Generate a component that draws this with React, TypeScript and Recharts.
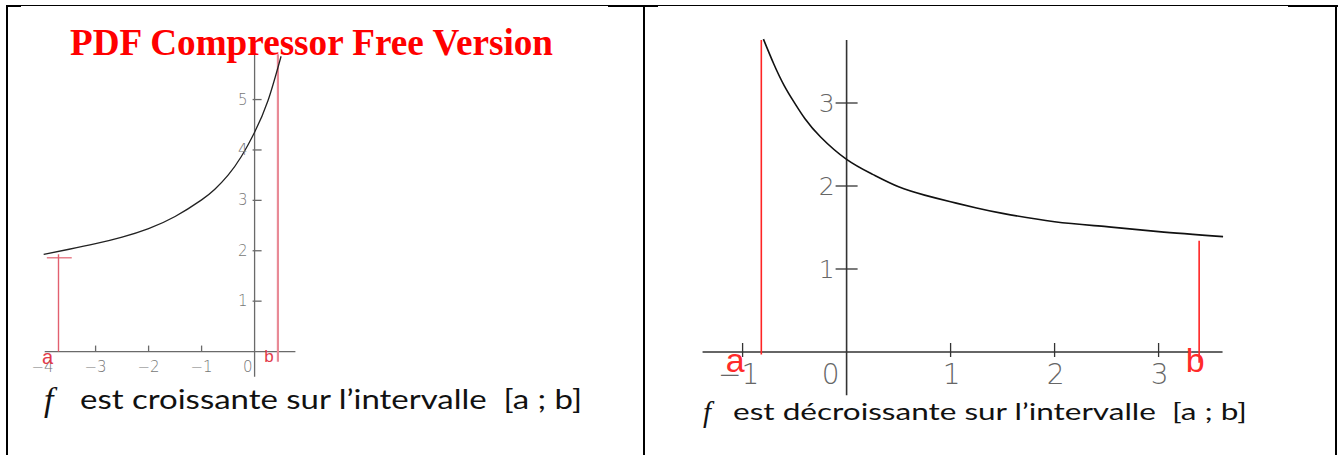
import React from 'react';
import { LineChart, Line, XAxis, YAxis, ReferenceLine, ReferenceDot } from 'recharts';

// ---------- Left panel: f croissante ----------
const leftXs = [-3.98, -3.5, -3, -2.5, -2, -1.5, -1, -0.75, -0.5, -0.25, 0, 0.25, 0.5];
const leftYs = [1.93, 2.03, 2.14, 2.27, 2.44, 2.68, 3.01, 3.22, 3.5, 3.87, 4.35, 4.97, 5.86];
const leftXTicks = [-4, -3, -2, -1, 0];
const leftXTickLabels = ['−4', '−3', '−2', '−1', '0'];
const leftYTicks = [1, 2, 3, 4, 5];
const leftYTickLabels = ['1', '2', '3', '4', '5'];
const leftA = -3.7;
const leftB = 0.44;
const leftAValue = 1.93;
const leftBTop = 5.9;

// ---------- Right panel: f décroissante ----------
const rightXs = [-0.8, -0.7, -0.6, -0.5, -0.4, -0.25, 0, 0.25, 0.5, 0.75, 1, 1.25, 1.5, 2, 2.5, 3, 3.62];
const rightYs = [3.77, 3.47, 3.21, 3.0, 2.81, 2.59, 2.32, 2.14, 1.99, 1.89, 1.81, 1.735, 1.67, 1.57, 1.51, 1.45, 1.39];
const rightXTicks = [-1, 0, 1, 2, 3];
const rightXTickLabels = ['−1', '0', '1', '2', '3'];
const rightYTicks = [1, 2, 3];
const rightYTickLabels = ['1', '2', '3'];
const rightA = -0.82;
const rightB = 3.39;
const rightAValue = 3.76;
const rightBValue = 1.34;

const leftData = leftXs.map((x, i) => ({ x, y: leftYs[i] }));
const rightData = rightXs.map((x, i) => ({ x, y: rightYs[i] }));

type Tk = { cx?: number; cy?: number };

const xTickShape = (label: string, opts: { tick: boolean; up: number; down: number; dx: number; dy: number; anchor: string; size: number; color: string; font: string; weight?: number | string; tickColor: string }) =>
  (p: Tk) => {
    const cx = p.cx ?? 0;
    const cy = p.cy ?? 0;
    return (
      <g>
        {opts.tick && <line x1={cx} x2={cx} y1={cy - opts.up} y2={cy + opts.down} stroke={opts.tickColor} strokeWidth={1.3} />}
        <text x={cx + opts.dx} y={cy + opts.dy} textAnchor={opts.anchor as any} fontSize={opts.size} fill={opts.color} fontFamily={opts.font} fontWeight={opts.weight as any}>{label}</text>
      </g>
    );
  };

const yTickShape = (label: string, opts: { left: number; right: number; dx: number; dy: number; size: number; color: string; font: string; weight?: number | string; tickColor: string }) =>
  (p: Tk) => {
    const cx = p.cx ?? 0;
    const cy = p.cy ?? 0;
    return (
      <g>
        <line x1={cx - opts.left} x2={cx + opts.right} y1={cy} y2={cy} stroke={opts.tickColor} strokeWidth={1.3} />
        <text x={cx + opts.dx} y={cy + opts.dy} textAnchor="end" fontSize={opts.size} fill={opts.color} fontFamily={opts.font} fontWeight={opts.weight as any}>{label}</text>
      </g>
    );
  };

const textShape = (label: string, dx: number, dy: number, size: number, color: string, font: string) =>
  (p: Tk) => (
    <text x={(p.cx ?? 0) + dx} y={(p.cy ?? 0) + dy} textAnchor="middle" fontSize={size} fill={color} fontFamily={font}>{label}</text>
  );

const LEFT_BOX = { left: 32.4, top: 29.44, width: 275.6, height: 352.8 };
const RIGHT_BOX = { left: 701.4, top: 20, width: 551.2, height: 381.8 };

function LeftChart() {
  const axisColor = '#6a6a6a';
  const labelColor = '#777';
  const font = 'DejaVu Sans';
  return (
    <div style={{ position: 'absolute', left: LEFT_BOX.left, top: LEFT_BOX.top }}>
      <LineChart width={LEFT_BOX.width} height={LEFT_BOX.height} data={leftData} margin={{ top: 0, right: 0, bottom: 0, left: 0 }}>
        <XAxis dataKey="x" type="number" domain={[-4.2, 1.0]} hide allowDataOverflow />
        <YAxis type="number" domain={[-0.6, 6.4]} hide allowDataOverflow />
        <ReferenceLine segment={[{ x: -3.96, y: 0 }, { x: 0.77, y: 0 }]} stroke={axisColor} strokeWidth={1.3} />
        <ReferenceLine segment={[{ x: 0, y: -0.5 }, { x: 0, y: 6.1 }]} stroke={axisColor} strokeWidth={1.3} />
        {leftXTicks.map((t, i) => (
          <ReferenceDot key={'lx' + t} x={t} y={0} r={0}
            shape={xTickShape(leftXTickLabels[i], {
              tick: t !== 0 && t !== -4, up: 6, down: 0,
              dx: t === 0 ? -2 : 0, dy: 20, anchor: t === 0 ? 'end' : 'middle',
              size: 15, color: labelColor, font, weight: 300, tickColor: axisColor,
            })} />
        ))}
        {leftYTicks.map((t, i) => (
          <ReferenceDot key={'ly' + t} x={0} y={t} r={0}
            shape={yTickShape(leftYTickLabels[i], { left: 2, right: 7, dx: -7, dy: 5, size: 15, color: labelColor, font, weight: 300, tickColor: axisColor })} />
        ))}
        <ReferenceLine segment={[{ x: leftA, y: 0 }, { x: leftA, y: leftAValue }]} stroke="#e2606f" strokeWidth={1.4} />
        <ReferenceLine segment={[{ x: -3.92, y: 1.86 }, { x: -3.45, y: 1.86 }]} stroke="#e2606f" strokeWidth={1.2} />
        <ReferenceLine segment={[{ x: leftB, y: -0.2 }, { x: leftB, y: leftBTop }]} stroke="#e98a96" strokeWidth={2.2} />
        <Line dataKey="y" type="natural" stroke="#222" strokeWidth={1.3} dot={false} isAnimationActive={false} />
        <ReferenceDot x={leftA} y={0} r={0} shape={textShape('a', -11, 12, 20, '#e23a4a', 'Liberation Sans')} />
        <ReferenceDot x={leftB} y={0} r={0} shape={textShape('b', -9, 10, 17, '#e23a4a', 'Liberation Sans')} />
      </LineChart>
    </div>
  );
}

function RightChart() {
  const axisColor = '#333';
  const labelColor = '#666';
  const font = 'DejaVu Sans';
  return (
    <div style={{ position: 'absolute', left: RIGHT_BOX.left, top: RIGHT_BOX.top }}>
      <LineChart width={RIGHT_BOX.width} height={RIGHT_BOX.height} data={rightData} margin={{ top: 0, right: 0, bottom: 0, left: 0 }}>
        <XAxis dataKey="x" type="number" domain={[-1.4, 3.9]} hide allowDataOverflow />
        <YAxis type="number" domain={[-0.6, 4.0]} hide allowDataOverflow />
        <ReferenceLine segment={[{ x: -1.385, y: 0 }, { x: 3.615, y: 0 }]} stroke={axisColor} strokeWidth={1.6} />
        <ReferenceLine segment={[{ x: 0, y: -0.52 }, { x: 0, y: 3.76 }]} stroke={axisColor} strokeWidth={1.6} />
        {rightXTicks.map((t, i) => (
          <ReferenceDot key={'rx' + t} x={t} y={0} r={0}
            shape={xTickShape(rightXTickLabels[i], {
              tick: t !== 0, up: 9, down: 5,
              dx: t === 0 ? -7 : t < 0 ? -4 : 1, dy: 32, anchor: t === 0 ? 'end' : 'middle',
              size: 28, color: labelColor, font, weight: 300, tickColor: axisColor,
            })} />
        ))}
        {rightYTicks.map((t, i) => (
          <ReferenceDot key={'ry' + t} x={0} y={t} r={0}
            shape={yTickShape(rightYTickLabels[i], { left: 11, right: 11, dx: -12, dy: 9, size: 25, color: labelColor, font, weight: 300, tickColor: axisColor })} />
        ))}
        <ReferenceLine segment={[{ x: rightA, y: -0.03 }, { x: rightA, y: rightAValue }]} stroke="#ff2424" strokeWidth={1.6} />
        <ReferenceLine segment={[{ x: rightB, y: -0.13 }, { x: rightB, y: rightBValue }]} stroke="#ff2424" strokeWidth={1.6} />
        <Line dataKey="y" type="natural" stroke="#111" strokeWidth={1.6} dot={false} isAnimationActive={false} />
        <ReferenceDot x={rightA} y={0} r={0} shape={textShape('a', -26, 20, 34, '#ff2a2a', 'Liberation Sans')} />
        <ReferenceDot x={rightB} y={0} r={0} shape={textShape('b', -4, 20, 34, '#ff2a2a', 'Liberation Sans')} />
      </LineChart>
    </div>
  );
}

const line = (l: number, t: number, w: number, h: number) => (
  <div style={{ position: 'absolute', left: l, top: t, width: w, height: h, background: '#000' }} />
);

export default function App() {
  return (
    <div style={{ position: 'absolute', left: 0, top: 0, width: 1341, height: 455, overflow: 'hidden', background: '#fff' }}>
      {/* table borders */}
      {line(6, 5, 1332, 1)}
      {line(6, 5, 15, 2)}
      {line(608, 5, 50, 2)}
      {line(1288, 5, 50, 2)}
      {line(6, 5, 2, 450)}
      {line(643, 5, 2, 450)}
      {line(1335, 5, 2, 450)}
      <LeftChart />
      <RightChart />
      <svg width={1341} height={455} style={{ position: 'absolute', left: 0, top: 0, pointerEvents: 'none' }}>
        <text x={70} y={55} fontFamily="Liberation Serif" fontWeight="bold" fontSize={37} fill="#ff0000" textLength={483} lengthAdjust="spacingAndGlyphs">PDF Compressor Free Version</text>
        <text x={44} y={411} fontFamily="Liberation Serif" fontStyle="italic" fontSize={34} fill="#111">f</text>
        <text x={80} y={409} fontFamily="Lato" fontSize={26} fill="#111" textLength={502} lengthAdjust="spacingAndGlyphs" style={{ whiteSpace: 'pre' }}>est croissante sur l’intervalle  [a ; b]</text>
        <text x={703} y={422} fontFamily="Liberation Serif" fontStyle="italic" fontSize={29} fill="#111">f</text>
        <text x={733} y={420} fontFamily="Lato" fontSize={23} fill="#111" textLength={514} lengthAdjust="spacingAndGlyphs" style={{ whiteSpace: 'pre' }}>est décroissante sur l’intervalle  [a ; b]</text>
      </svg>
    </div>
  );
}
